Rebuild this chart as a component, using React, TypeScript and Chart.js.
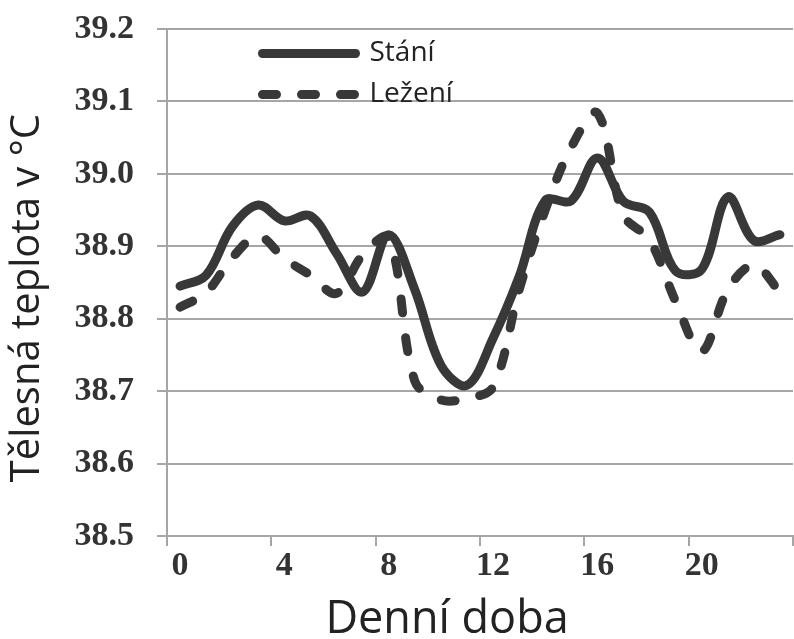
import React, { useEffect, useRef } from 'react';
import { Chart, registerables } from 'chart.js';

Chart.register(...registerables);

// Hour of day (centre of each hourly interval)
const hours = [0.5, 1.5, 2.5, 3.5, 4.5, 5.5, 6.5, 7.5, 8.5, 9.5, 10.5, 11.5, 12.5, 13.5, 14.5, 15.5, 16.5, 17.5, 18.5, 19.5, 20.5, 21.5, 22.5, 23.5];

// Body temperature while standing (Stání)
const standing = [38.845, 38.86, 38.927, 38.957, 38.935, 38.942, 38.89, 38.837, 38.916, 38.84, 38.736, 38.708, 38.773, 38.858, 38.963, 38.963, 39.022, 38.962, 38.947, 38.866, 38.868, 38.968, 38.908, 38.916];

// Body temperature while lying (Ležení)
const lying = [38.816, 38.836, 38.884, 38.914, 38.883, 38.86, 38.835, 38.888, 38.912, 38.714, 38.688, 38.69, 38.706, 38.84, 38.95, 39.037, 39.084, 38.943, 38.909, 38.824, 38.755, 38.84, 38.874, 38.837];

const seriesNames = ['Stání', 'Ležení'];

const xTickValues = [0, 4, 8, 12, 16, 20, 24];
const xTickLabels = ['0', '4', '8', '12', '16', '20', ''];
const yTickValues = [38.5, 38.6, 38.7, 38.8, 38.9, 39.0, 39.1, 39.2];
const yTickLabels = ['38.5', '38.6', '38.7', '38.8', '38.9', '39.0', '39.1', '39.2'];

const xTitle = 'Denní doba     \u2009';
const yTitle = 'Tělesná teplota v °C   ';

const LINE = '#383838';
const GRID = '#a6a6a6';
const X_TICK_FONT = { family: 'Liberation Serif', size: 34, weight: 'bold' as const, lineHeight: 1.2 };
const Y_TICK_FONT = { family: 'Liberation Serif', size: 34, weight: 'bold' as const, lineHeight: 0.3 };

const legendPlacer = {
  id: 'legendPlacer',
  afterLayout(chart: any) {
    const lg = chart.legend;
    const ca = chart.chartArea;
    if (!lg || !ca) return;
    const pad = 13;
    lg.left = ca.left + 95.5 - pad;
    lg.top = ca.top - 2.5;
    lg.right = ca.right;
    lg.bottom = ca.bottom;
    lg.width = lg.right - lg.left;
    lg.height = lg.bottom - lg.top;
  },
};

export default function App() {
  const ref = useRef<HTMLCanvasElement | null>(null);

  useEffect(() => {
    if (!ref.current) return;
    const chart = new Chart(ref.current, {
      type: 'line',
      data: {
        datasets: [
          {
            label: seriesNames[0],
            data: hours.map((h, i) => ({ x: h, y: standing[i] })),
            borderColor: LINE,
            backgroundColor: LINE,
            borderWidth: 9,
            borderCapStyle: 'round',
            borderJoinStyle: 'round',
            pointRadius: 0,
            tension: 0.35,
            fill: false,
          },
          {
            label: seriesNames[1],
            data: hours.map((h, i) => ({ x: h, y: lying[i] })),
            borderColor: LINE,
            backgroundColor: LINE,
            borderWidth: 9,
            borderDash: [14, 25],
            borderCapStyle: 'round',
            borderJoinStyle: 'round',
            pointRadius: 0,
            tension: 0.35,
            fill: false,
          },
        ],
      },
      plugins: [legendPlacer],
      options: {
        animation: false,
        responsive: false,
        maintainAspectRatio: false,
        devicePixelRatio: 1,
        layout: { padding: { left: 0, top: 29, right: 1, bottom: 0 } },
        plugins: {
          tooltip: { enabled: false },
          legend: {
            display: true,
            position: 'chartArea',
            align: 'start',
            labels: {
              usePointStyle: true,
              pointStyle: 'line',
              pointStyleWidth: 93,
              padding: 13,
              textAlign: 'left',
              color: '#222',
              font: { family: 'Open Sans', size: 28 },
              generateLabels: (chart: any) => {
                const items = Chart.defaults.plugins.legend.labels.generateLabels(chart);
                return items.map((it: any) => {
                  const ds = chart.data.datasets[it.datasetIndex];
                  return {
                    ...it,
                    lineDash: ds.borderDash || [],
                    lineCap: 'round',
                    lineWidth: 9,
                    strokeStyle: LINE,
                    fillStyle: LINE,
                    pointStyle: 'line',
                  };
                });
              },
            },
          },
        },
        scales: {
          x: {
            type: 'linear',
            min: 0,
            max: 24,
            afterBuildTicks: (scale: any) => {
              scale.ticks = xTickValues.map((v) => ({ value: v }));
            },
            afterFit: (scale: any) => {
              scale.height = 103;
            },
            grid: {
              drawOnChartArea: false,
              drawTicks: true,
              tickLength: 10,
              color: GRID,
              lineWidth: 2,
            },
            border: { display: true, color: GRID, width: 2 },
            ticks: {
              padding: 0,
              labelOffset: 13,
              maxRotation: 0,
              autoSkip: false,
              color: '#333',
              font: X_TICK_FONT,
              callback: (value: any) => {
                const i = xTickValues.indexOf(Number(value));
                return i >= 0 ? xTickLabels[i] : '';
              },
            },
            title: {
              display: true,
              text: xTitle,
              color: '#222',
              font: { family: 'Open Sans', size: 45, lineHeight: 0.82 },
              padding: { top: 0, bottom: 0 },
            },
          },
          y: {
            type: 'linear',
            min: 38.5,
            max: 39.2,
            afterBuildTicks: (scale: any) => {
              scale.ticks = yTickValues.map((v) => ({ value: v }));
            },
            afterFit: (scale: any) => {
              scale.width = 167;
            },
            grid: {
              drawOnChartArea: true,
              drawTicks: true,
              tickLength: 10,
              color: GRID,
              lineWidth: 2,
            },
            border: { display: true, color: GRID, width: 2 },
            ticks: {
              padding: 23,
              autoSkip: false,
              color: '#333',
              font: Y_TICK_FONT,
              callback: (_value: any, index: number) => yTickLabels[index],
            },
            title: {
              display: true,
              text: yTitle,
              color: '#222',
              font: { family: 'Open Sans', size: 40, lineHeight: 1.2 },
              padding: { top: 4, bottom: 0 },
            },
          },
        },
      },
    } as any);
    return () => chart.destroy();
  }, []);

  return (
    <div style={{ position: 'fixed', left: 0, top: 0, width: 794, height: 639, background: '#fff' }}>
      <canvas ref={ref} width={794} height={639} style={{ display: 'block', width: 794, height: 639 }} />
    </div>
  );
}
